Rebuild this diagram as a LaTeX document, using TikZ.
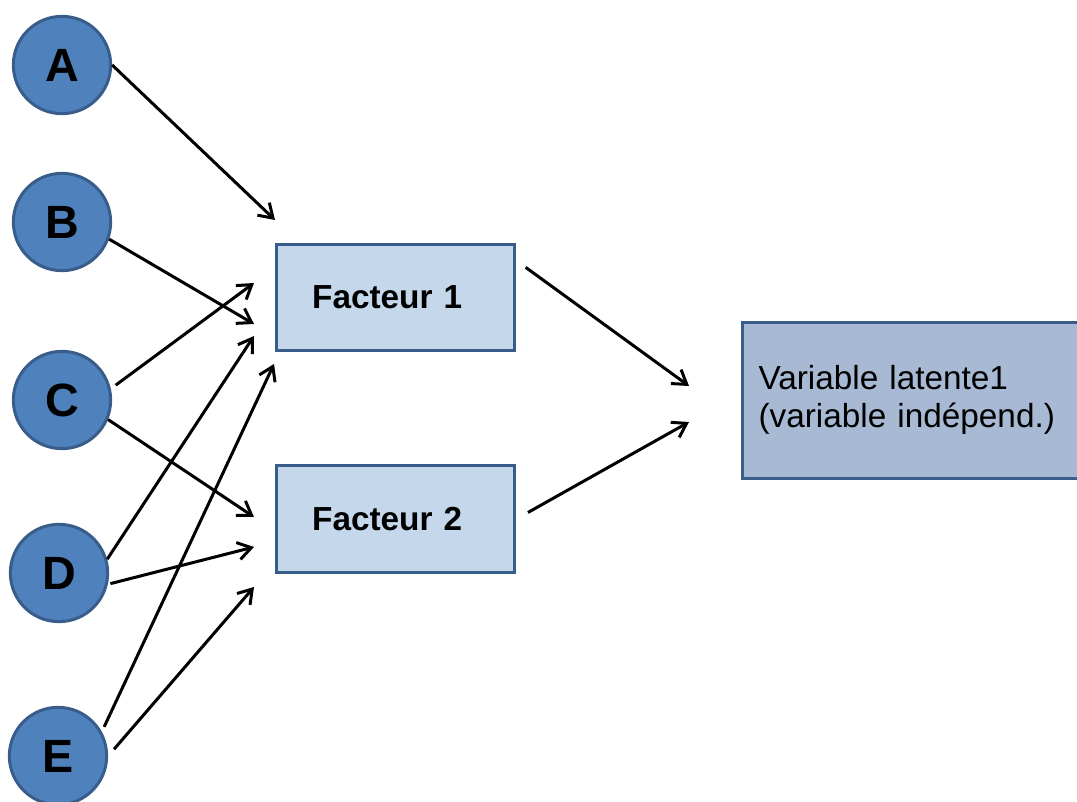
\documentclass[tikz,border=0pt]{standalone}
\usepackage{fontspec}
\setmainfont{Liberation Sans}
\usetikzlibrary{arrows.meta}

\definecolor{circfill}{RGB}{79,129,189}
\definecolor{boxline}{RGB}{56,93,138}
\definecolor{factfill}{RGB}{197,215,235}
\definecolor{latfill}{RGB}{167,185,211}

\tikzset{
	item/.style={circle, draw=boxline, fill=circfill, line width=2.25pt, minimum size=73pt, inner sep=0pt, font=\fontsize{35}{40}\selectfont\bfseries},
	factor/.style={rectangle, draw=boxline, fill=factfill, line width=2.25pt, inner xsep=27pt, text width=125pt, align=left, minimum height=80pt, font=\fontsize{25}{29}\selectfont\bfseries},
	latent/.style={rectangle, draw=boxline, fill=latfill, line width=2.25pt, minimum height=117pt, inner xsep=12pt, text width=245pt, align=left, font=\fontsize{25}{29}\selectfont},
	link/.style={-{Straight Barb[length=10pt,width=13pt]}, line width=2.25pt}
}

\begin{document}
\begin{tikzpicture}[x=0.75pt,y=0.75pt,yscale=-1,xscale=1]
	\useasboundingbox (0,0) rectangle (1077,802);

	%Shape: Circles
	\node[item] (A) at (62,65) {A};
	\node[item] (B) at (62,222) {B};
	\node[item] (C) at (62,400) {C};
	\node[item] (D) at (59,573) {D};
	\node[item] (E) at (58,756) {E};

	%Shape: Rectangles
	\node[factor] (F1) at (395.5,297.5) {Facteur 1};
	\node[factor] (F2) at (395.5,519) {Facteur 2};
	\node[latent, anchor=west] (L) at (741,400) {Variable latente1\\(variable indépend.)};

	% arrow tips
	\coordinate (tA) at (275,220);
	\coordinate (tB) at (254,324);
	\coordinate (tC1) at (254,283);
	\coordinate (tC2) at (254,517);
	\coordinate (tD1) at (254,336);
	\coordinate (tD2) at (254,547);
	\coordinate (tE1) at (274,364);
	\coordinate (tE2) at (254,587);
	\coordinate (tL1) at (689,386);
	\coordinate (tL2) at (689,422);

	%Straight Lines
	\draw[link] (A.east) -- (tA);
	\draw[link] (B.-20) -- (tB);
	\draw[link, shorten <=4.5pt] (C.13) -- (tC1);
	\draw[link] (C.-23) -- (tC2);
	\draw[link] (D.16) -- (tD1);
	\draw[link, shorten <=2pt] (D.-13) -- (tD2);
	\draw[link, shorten <=4pt] (E.29) -- (tE1);
	\draw[link, shorten <=6.75pt] (E.east) -- (tE2);
	\draw[link] ([xshift=7pt]F1.14) -- (tL1);
	\draw[link, shorten <=10pt] (F2.east) -- (tL2);

\end{tikzpicture}
\end{document}
